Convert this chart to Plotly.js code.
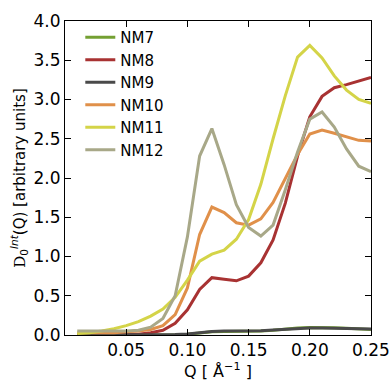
<!DOCTYPE html>
<html>
<head>
<meta charset="utf-8">
<script src="https://cdn.plot.ly/plotly-3.0.1.min.js"></script>
<style>body{margin:0;padding:0;background:#fff;}#chart{width:389px;height:386px;}</style>
</head>
<body>
<div id="chart"></div>
<script>
const Q = [0.01,0.02,0.03,0.04,0.05,0.06,0.07,0.08,0.09,0.10,0.11,0.12,0.13,0.14,0.15,0.16,0.17,0.18,0.19,0.20,0.21,0.22,0.23,0.24,0.25];
const seriesNames = ["NM7","NM8","NM9","NM10","NM11","NM12"];
const NM7 = [0,0,0,0,0,0,0,0,0.003,0.01,0.025,0.04,0.045,0.045,0.048,0.05,0.06,0.075,0.088,0.095,0.095,0.092,0.085,0.078,0.07];
const NM8 = [0.0,0.0,0.0,0.0,0.01,0.01,0.03,0.06,0.15,0.32,0.58,0.73,0.71,0.69,0.75,0.92,1.21,1.68,2.28,2.78,3.04,3.15,3.19,3.23,3.28];
const NM9 = [0,0,0,0,0,0,0,0,0.005,0.012,0.03,0.045,0.05,0.05,0.05,0.055,0.065,0.075,0.085,0.09,0.09,0.088,0.085,0.08,0.075];
const NM10 = [0.03,0.03,0.03,0.03,0.04,0.05,0.07,0.12,0.26,0.60,1.28,1.63,1.56,1.43,1.40,1.48,1.69,1.99,2.30,2.56,2.61,2.57,2.52,2.48,2.47];
const NM11 = [0.02,0.03,0.05,0.08,0.12,0.17,0.24,0.33,0.48,0.70,0.94,1.03,1.08,1.22,1.47,1.92,2.50,3.05,3.54,3.69,3.53,3.30,3.12,3.00,2.95];
const NM12 = [0.05,0.05,0.05,0.05,0.05,0.06,0.10,0.21,0.50,1.25,2.28,2.63,2.17,1.66,1.37,1.26,1.40,1.85,2.33,2.75,2.84,2.65,2.37,2.15,2.08];
const xTicks = [0.05,0.10,0.15,0.20,0.25];
const yTicks = [0.0,0.5,1.0,1.5,2.0,2.5,3.0,3.5,4.0];

const values = [NM7,NM8,NM9,NM10,NM11,NM12];
const colors = ["#74a033","#a83232","#4a4a4a","#e0904a","#d4d448","#a8a888"];

const traces = seriesNames.map((n,i)=>({
  x: Q, y: values[i], name: n, type: 'scatter', mode: 'lines',
  line: {color: colors[i], width: 3},
  legendgroup: n
}));

const font = {family: 'DejaVu Sans, sans-serif', color: '#000'};
const layout = {
  width: 389, height: 386,
  margin: {l: 65, r: 18, t: 21, b: 51},
  paper_bgcolor: '#fff', plot_bgcolor: '#fff',
  font: Object.assign({size: 16}, font),
  showlegend: true,
  legend: {x: 0.05, y: 1.0, xanchor: 'left', yanchor: 'top', bgcolor: 'rgba(0,0,0,0)',
           font: Object.assign({size: 15}, font), traceorder: 'normal'},
  xaxis: {
    range: [0, 0.25], tickvals: xTicks, ticktext: xTicks.map(v=>v.toFixed(2)),
    ticks: 'inside', ticklen: 6, tickcolor: '#000', showline: true, linecolor: '#000', linewidth: 1,
    mirror: 'ticks', showgrid: false, zeroline: false, ticklabeloverflow: 'allow',
    tickfont: Object.assign({size: 17}, font),
    title: {text: 'Q [ Å<sup>−1</sup> ]', font: Object.assign({size: 16}, font), standoff: 6}
  },
  yaxis: {
    range: [0, 4.0], tickvals: yTicks, ticktext: yTicks.map(v=>v.toFixed(1)),
    ticks: 'inside', ticklen: 6, tickcolor: '#000', showline: true, linecolor: '#000', linewidth: 1,
    mirror: 'ticks', showgrid: false, zeroline: false, ticklabeloverflow: 'allow',
    tickfont: Object.assign({size: 17}, font),
    title: {text: '<span style="font-family:DejaVu Serif">D</span><sub>0</sub><sup><i>Int</i></sup>(Q) [arbitrary units]', font: Object.assign({size: 15}, font), standoff: 4}
  }
};
Plotly.newPlot('chart', traces, layout, {displayModeBar: false, staticPlot: true});
</script>
</body>
</html>
